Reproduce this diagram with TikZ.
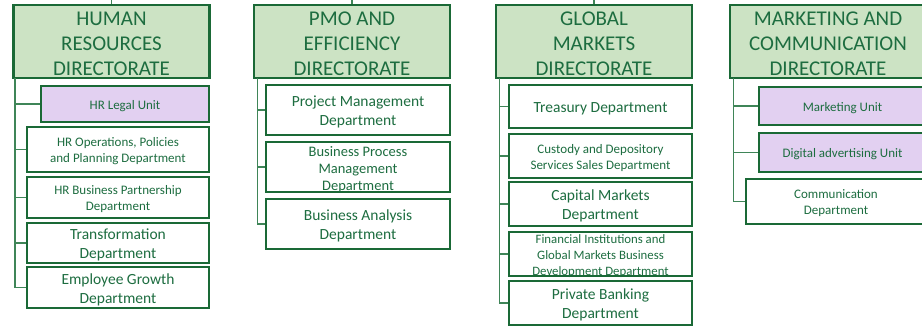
\documentclass[tikz,border=0pt]{standalone}
\usepackage{fontspec}
\setmainfont{Carlito}
\definecolor{bordc}{HTML}{1A6936}
\definecolor{dirfill}{HTML}{CCE3C4}
\definecolor{purp}{HTML}{E2D0F1}
\definecolor{txtc}{HTML}{1D6D40}
\definecolor{connc}{HTML}{3F8558}
\tikzset{
  dirbox/.style={draw=bordc, fill=dirfill, line width=2.8pt, minimum width=196pt, minimum height=73pt, inner sep=0pt},
  unitbox/.style={draw=bordc, fill=white, line width=2.8pt, inner sep=0pt},
  purplebox/.style={unitbox, fill=purp},
  txt/.style={text=txtc, align=center, inner sep=0pt, yshift=-2pt},
  headtxt/.style={txt, font=\fontsize{21}{25}\selectfont},
  bigtxt/.style={txt, font=\fontsize{15.5}{19}\selectfont},
  smalltxt/.style={txt, font=\fontsize{13}{16}\selectfont},
  conn/.style={draw=connc, line width=1.3pt},
}
\begin{document}
\begin{tikzpicture}[x=1pt,y=1pt]
\useasboundingbox (0,0) rectangle (922,-329);
\clip (0,0) rectangle (922,-329);

% ---------------- HR ----------------
\node[dirbox] (hrd) at (111.5,-41.5) {};
\node[headtxt] (hrdt) at (hrd.center) {HUMAN\\RESOURCES\\DIRECTORATE};
\node[purplebox, minimum width=168pt, minimum height=36pt] (hrlegal) at (125,-104) {};
\node[smalltxt] (hrlegalt) at (hrlegal.center) {HR Legal Unit};
\node[unitbox, minimum width=182pt, minimum height=45pt] (hrops) at (118,-149.5) {};
\node[smalltxt] (hropst) at (hrops.center) {HR Operations, Policies\\and Planning Department};
\node[unitbox, minimum width=182pt, minimum height=41pt] (hrbp) at (118,-197.5) {};
\node[smalltxt] (hrbpt) at (hrbp.center) {HR Business Partnership\\Department};
\node[unitbox, minimum width=182pt, minimum height=40pt] (trans) at (118,-243) {};
\node[bigtxt] (transt) at (trans.center) {Transformation\\Department};
\node[unitbox, minimum width=182pt, minimum height=41pt] (emp) at (118,-287.5) {};
\node[bigtxt] (empt) at (emp.center) {Employee Growth\\Department};

\coordinate (hrtop) at (111.5,0);
\coordinate (hrv) at (15,-78);
\draw[conn] (hrd.north) -- (hrtop);
\foreach \b in {hrlegal,hrops,hrbp,trans,emp} \draw[conn] (hrv) |- (\b.west);

% ---------------- PMO ----------------
\node[dirbox] (pmod) at (352,-41.5) {};
\node[headtxt] (pmodt) at (pmod.center) {PMO AND\\EFFICIENCY\\DIRECTORATE};
\node[unitbox, minimum width=184pt, minimum height=50pt] (pm) at (358,-110) {};
\node[bigtxt] (pmt) at (pm.center) {Project Management\\Department};
\node[unitbox, minimum width=184pt, minimum height=50pt] (bpm) at (358,-167) {};
\node[txt, font=\fontsize{14.5}{17}\selectfont] (bpmt) at (358,-168) {Business Process\\Management\\Department};
\node[unitbox, minimum width=184pt, minimum height=50pt] (ba) at (358,-224) {};
\node[bigtxt] (bat) at (ba.center) {Business Analysis\\Department};

\coordinate (pmotop) at (352,0);
\coordinate (pmov) at (257.5,-78);
\draw[conn] (pmod.north) -- (pmotop);
\foreach \b in {pm,bpm,ba} \draw[conn] (pmov) |- (\b.west);

% ---------------- Global Markets ----------------
\node[dirbox] (gmd) at (594,-41.5) {};
\node[headtxt] (gmdt) at (gmd.center) {GLOBAL\\MARKETS\\DIRECTORATE};
\node[unitbox, minimum width=183pt, minimum height=43pt] (treas) at (600.5,-106.5) {};
\node[bigtxt] (treast) at (treas.center) {Treasury Department};
\node[unitbox, minimum width=183pt, minimum height=44pt] (cust) at (600.5,-156) {};
\node[smalltxt] (custt) at (cust.center) {Custody and Depository\\Services Sales Department};
\node[unitbox, minimum width=183pt, minimum height=44pt] (cap) at (600.5,-204) {};
\node[bigtxt] (capt) at (cap.center) {Capital Markets\\Department};
\node[unitbox, minimum width=183pt, minimum height=44pt] (fin) at (600.5,-254) {};
\node[txt, font=\fontsize{12.8}{16}\selectfont] (fint) at (600.5,-254) {Financial Institutions and\\Global Markets Business\\Development Department};
\node[unitbox, minimum width=183pt, minimum height=44pt] (pb) at (600.5,-303) {};
\node[bigtxt] (pbt) at (pb.center) {Private Banking\\Department};

\coordinate (gmtop) at (594,0);
\coordinate (gmv) at (499.5,-78);
\draw[conn] (gmd.north) -- (gmtop);
\foreach \b in {treas,cust,cap,fin,pb} \draw[conn] (gmv) |- (\b.west);

% ---------------- Marketing ----------------
\node[dirbox] (mcd) at (828,-41.5) {};
\node[headtxt] (mcdt) at (mcd.center) {MARKETING AND\\COMMUNICATION\\DIRECTORATE};
\node[purplebox, minimum width=167pt, minimum height=38pt] (mkt) at (842.5,-106) {};
\node[smalltxt] (mktt) at (mkt.center) {Marketing Unit};
\node[purplebox, minimum width=167pt, minimum height=39pt] (dig) at (842.5,-152.5) {};
\node[smalltxt] (digt) at (dig.center) {Digital advertising Unit};
\node[unitbox, minimum width=180pt, minimum height=45pt] (comm) at (836,-201.5) {};
\node[smalltxt] (commt) at (comm.center) {Communication\\Department};

\coordinate (mcv) at (733.5,-78);
\foreach \b in {mkt,dig,comm} \draw[conn] (mcv) |- (\b.west);
\end{tikzpicture}
\end{document}
